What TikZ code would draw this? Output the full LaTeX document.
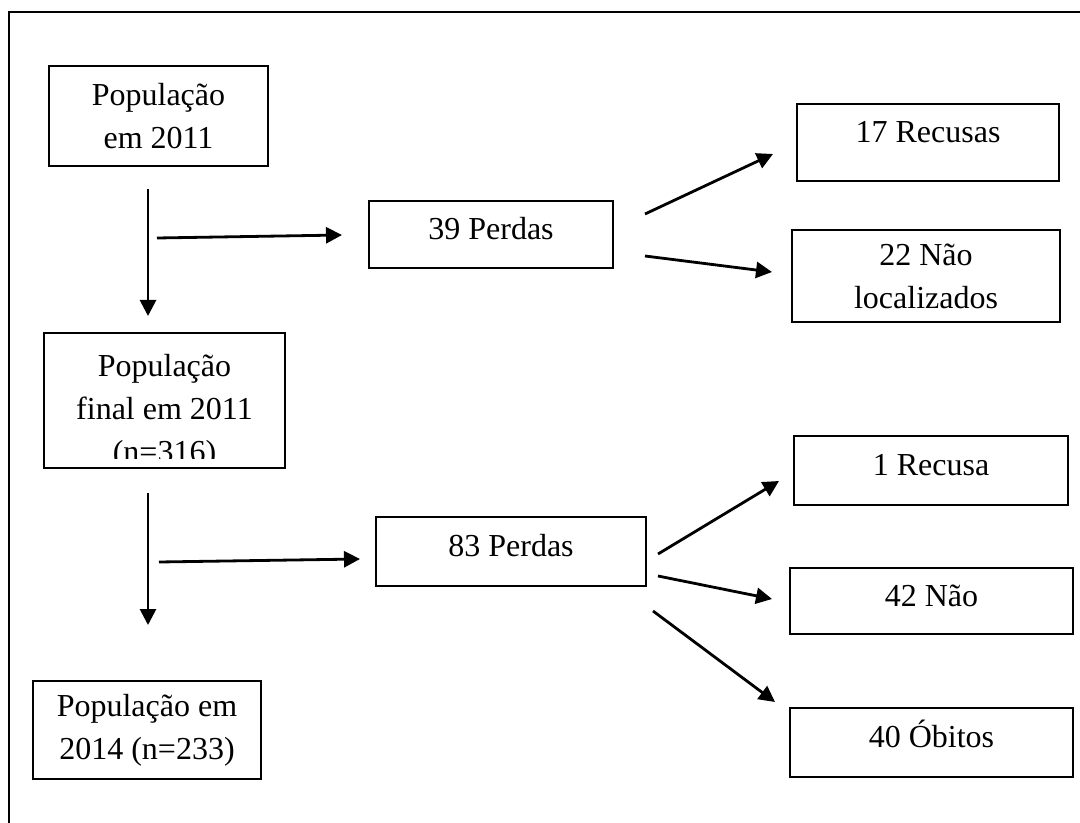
\documentclass[tikz,border=0pt]{standalone}
\usepackage{fontspec}
\setmainfont{Liberation Serif}
\usetikzlibrary{arrows.meta}

\begin{document}
\begin{tikzpicture}[x=0.5pt,y=-0.5pt,
	every node/.style={font=\fontsize{16}{21.5}\selectfont},
	caixa/.style={draw,line width=0.65pt,inner sep=0pt,align=center},
	linha/.style={caixa,text height=9pt,text depth=4pt},
	seta/.style={line width=1.4pt,-{Triangle[length=8pt,width=8pt]}}]
	\useasboundingbox (0,0) rectangle (1080,823);
	% moldura
	\draw[line width=1pt] (9,823) -- (9,12) -- (1080,12);
	% coluna da esquerda
	\node[caixa,minimum width=109.5pt,minimum height=50pt] (pop2011) at (158.5,116) {População\\em 2011};
	\node[caixa,minimum width=120.5pt,minimum height=67.5pt] (popfinal) at (164.5,400.5) {};
	\begin{scope}
		\clip (popfinal.north west) rectangle ([yshift=5pt]popfinal.south east);
		\node[align=center] at ([yshift=-5.5pt]popfinal.center) {População\\final em 2011\\(n=316)};
	\end{scope}
	\node[caixa,minimum width=114pt,minimum height=49pt] (pop2014) at (147,730) {População em\\2014 (n=233)};
	% perdas
	\node[linha,minimum width=122pt,minimum height=33.5pt] (perdas39) at (491,234.5) {39 Perdas};
	\node[linha,minimum width=135pt,minimum height=34.5pt] (perdas83) at (511,551.5) {83 Perdas};
	% motivos
	\node[linha,minimum width=131pt,minimum height=38.5pt,text height=7pt,text depth=6.5pt] (recusas17) at (928,142.5) {17 Recusas};
	\node[caixa,minimum width=134pt,minimum height=46pt] (naoloc22) at (926,276) {22 Não\\localizados};
	\node[linha,minimum width=137pt,minimum height=34.5pt] (recusa1) at (931,470.5) {1 Recusa};
	\node[linha,minimum width=141.5pt,minimum height=33pt] (nao42) at (931.5,601) {42 Não};
	\node[linha,minimum width=141.5pt,minimum height=34.5pt] (obitos40) at (931.5,742.5) {40 Óbitos};
	% pontas das setas
	\coordinate (v1a) at (148,189);  \coordinate (v1b) at (148,316);
	\coordinate (h1a) at (157,238);  \coordinate (h1b) at (342,235);
	\coordinate (v2a) at (148,493);  \coordinate (v2b) at (148,625);
	\coordinate (h2a) at (159,562);  \coordinate (h2b) at (360,559);
	\coordinate (r1a) at (645,214);  \coordinate (r1b) at (773,154);
	\coordinate (r2a) at (645,256);  \coordinate (r2b) at (772,272);
	\coordinate (r3a) at (658,554);  \coordinate (r3b) at (779,481);
	\coordinate (r4a) at (658,576);  \coordinate (r4b) at (772,599);
	\coordinate (r5a) at (653,611);  \coordinate (r5b) at (775,702);
	% setas
	\draw[seta] (v1a) -- (v1b);
	\draw[seta] (h1a) -- (h1b);
	\draw[seta] (v2a) -- (v2b);
	\draw[seta] (h2a) -- (h2b);
	\draw[seta] (r1a) -- (r1b);
	\draw[seta] (r2a) -- (r2b);
	\draw[seta] (r3a) -- (r3b);
	\draw[seta] (r4a) -- (r4b);
	\draw[seta] (r5a) -- (r5b);
\end{tikzpicture}
\end{document}
